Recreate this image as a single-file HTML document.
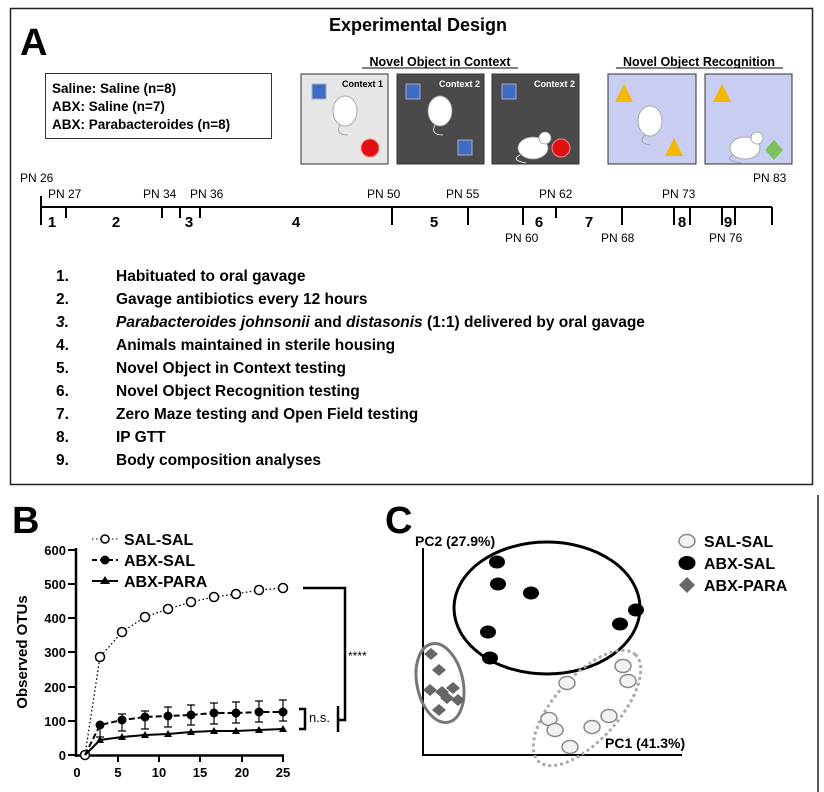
<!DOCTYPE html>
<html><head><meta charset="utf-8"><style>
html,body{margin:0;padding:0;background:#fff}
svg{display:block;font-family:"Liberation Sans",Arial,sans-serif}
</style></head><body>
<svg width="824" height="792" viewBox="0 0 824 792" xmlns="http://www.w3.org/2000/svg">
<rect x="0" y="0" width="824" height="792" fill="#fff"/>
<rect x="10.5" y="8.5" width="802" height="476" fill="none" stroke="#222" stroke-width="1.5"/>
<text x="20" y="55" font-size="38" font-weight="bold">A</text>
<text x="418" y="31" font-size="18" font-weight="bold" text-anchor="middle">Experimental Design</text>
<text x="440" y="66" font-size="12.5" font-weight="bold" text-anchor="middle">Novel Object in Context</text>
<line x1="362" y1="68" x2="518" y2="68" stroke="#000" stroke-width="1"/>
<text x="699" y="66" font-size="12.5" font-weight="bold" text-anchor="middle">Novel Object Recognition</text>
<line x1="616" y1="68" x2="783" y2="68" stroke="#000" stroke-width="1"/>
<rect x="45.5" y="73.5" width="226" height="65" fill="#fff" stroke="#333" stroke-width="1"/>
<g font-size="13.5" font-weight="bold">
<text x="52" y="93">Saline: Saline (n=8)</text>
<text x="52" y="111">ABX: Saline (n=7)</text>
<text x="52" y="129">ABX: Parabacteroides (n=8)</text>
</g>
<rect x="301" y="74" width="87" height="90" fill="#e6e6e6" stroke="#333"/>
<rect x="397" y="74" width="87" height="90" fill="#4a4a4a" stroke="#333"/>
<rect x="492" y="74" width="87" height="90" fill="#4a4a4a" stroke="#333"/>
<rect x="608" y="74" width="88" height="90" fill="#c9cdf2" stroke="#333"/>
<rect x="705" y="74" width="87" height="90" fill="#c9cdf2" stroke="#333"/>
<g font-size="9" font-weight="bold">
<text x="383" y="87" text-anchor="end" fill="#000">Context 1</text>
<text x="480" y="87" text-anchor="end" fill="#fff">Context 2</text>
<text x="575" y="87" text-anchor="end" fill="#fff">Context 2</text>
</g>
<rect x="312" y="84" width="14" height="15" fill="#3d6cc4" stroke="#aac" />
<circle cx="370" cy="148" r="9" fill="#e01010" stroke="#f88"/>
<rect x="406" y="84" width="14" height="15" fill="#3d6cc4" stroke="#aac"/>
<rect x="458" y="140" width="14" height="15" fill="#3d6cc4" stroke="#aac"/>
<rect x="502" y="84" width="14" height="15" fill="#3d6cc4" stroke="#aac"/>
<circle cx="561" cy="148" r="9" fill="#e01010" stroke="#f88"/>
<polygon points="624,84 615,102 633,102" fill="#f5b800"/>
<polygon points="674,138 665,156 683,156" fill="#f5b800"/>
<polygon points="722,84 713,102 731,102" fill="#f5b800"/>
<polygon points="774,140 783,150 774,160 765,150" fill="#7cc25a"/>
<g fill="#fff" stroke="#999" stroke-width="0.8">
<ellipse cx="345" cy="111" rx="12" ry="15"/>
<path d="M340 125 q-5 10 8 10" fill="none"/>
<ellipse cx="440" cy="111" rx="12" ry="15"/>
<path d="M435 125 q-5 10 8 10" fill="none" stroke="#fff"/>
<ellipse cx="533" cy="148" rx="15" ry="11"/>
<circle cx="545" cy="138" r="6"/>
<path d="M520 155 q-10 5 6 8" fill="none" stroke="#fff"/>
<ellipse cx="650" cy="121" rx="12" ry="15"/>
<path d="M645 135 q-8 8 5 10" fill="none"/>
<ellipse cx="745" cy="148" rx="15" ry="11"/>
<circle cx="757" cy="138" r="6"/>
<path d="M733 155 q-10 5 8 8" fill="none"/>
</g>
<g stroke="#000" stroke-width="2">
<line x1="41" y1="207" x2="772" y2="207"/>
<line x1="41" y1="196" x2="41" y2="225"/>
<line x1="66" y1="207" x2="66" y2="218"/>
<line x1="162" y1="207" x2="162" y2="218"/>
<line x1="180" y1="207" x2="180" y2="218"/>
<line x1="200" y1="207" x2="200" y2="218"/>
<line x1="392" y1="207" x2="392" y2="225"/>
<line x1="468" y1="207" x2="468" y2="225"/>
<line x1="523" y1="207" x2="523" y2="225"/>
<line x1="556" y1="207" x2="556" y2="218"/>
<line x1="622" y1="207" x2="622" y2="225"/>
<line x1="674" y1="207" x2="674" y2="225"/>
<line x1="690" y1="207" x2="690" y2="225"/>
<line x1="722" y1="207" x2="722" y2="225"/>
<line x1="735" y1="207" x2="735" y2="225"/>
<line x1="772" y1="207" x2="772" y2="225"/>
</g>
<g font-size="12">
<text x="20" y="182">PN 26</text>
<text x="48" y="198">PN 27</text>
<text x="143" y="198">PN 34</text>
<text x="190" y="198">PN 36</text>
<text x="367" y="198">PN 50</text>
<text x="446" y="198">PN 55</text>
<text x="539" y="198">PN 62</text>
<text x="662" y="198">PN 73</text>
<text x="753" y="182">PN 83</text>
<text x="505" y="242">PN 60</text>
<text x="601" y="242">PN 68</text>
<text x="709" y="242">PN 76</text>
</g>
<g font-size="15" font-weight="bold" text-anchor="middle">
<text x="52" y="227">1</text><text x="116" y="227">2</text><text x="189" y="227">3</text>
<text x="296" y="227">4</text><text x="434" y="227">5</text><text x="539" y="227">6</text>
<text x="589" y="227">7</text><text x="682" y="227">8</text><text x="728" y="227">9</text>
</g>
<g font-size="15.5" font-weight="bold">
<text x="56" y="281">1.</text><text x="116" y="281">Habituated to oral gavage</text>
<text x="56" y="304">2.</text><text x="116" y="304">Gavage antibiotics every 12 hours</text>
<text x="56" y="327" font-style="italic">3.</text><text x="116" y="327"><tspan font-style="italic">Parabacteroides johnsonii</tspan> and <tspan font-style="italic">distasonis</tspan> (1:1) delivered by oral gavage</text>
<text x="56" y="350">4.</text><text x="116" y="350">Animals maintained in sterile housing</text>
<text x="56" y="373">5.</text><text x="116" y="373">Novel Object in Context testing</text>
<text x="56" y="396">6.</text><text x="116" y="396">Novel Object Recognition testing</text>
<text x="56" y="419">7.</text><text x="116" y="419">Zero Maze testing and Open Field testing</text>
<text x="56" y="442">8.</text><text x="116" y="442">IP GTT</text>
<text x="56" y="465">9.</text><text x="116" y="465">Body composition analyses</text>
</g>
<line x1="818" y1="495" x2="818" y2="792" stroke="#222" stroke-width="1.5"/>

<text x="12" y="533" font-size="38" font-weight="bold">B</text>
<g stroke="#000" stroke-width="2.5">
<line x1="76" y1="548" x2="76" y2="757"/>
<line x1="76" y1="755.5" x2="284" y2="755.5"/>
</g>
<g stroke="#000" stroke-width="2">
<line x1="68" y1="550" x2="76" y2="550"/><line x1="68" y1="584" x2="76" y2="584"/>
<line x1="68" y1="618" x2="76" y2="618"/><line x1="68" y1="652" x2="76" y2="652"/>
<line x1="68" y1="687" x2="76" y2="687"/><line x1="68" y1="721" x2="76" y2="721"/>
<line x1="68" y1="755" x2="76" y2="755"/>
<line x1="118" y1="755" x2="118" y2="762"/><line x1="159" y1="755" x2="159" y2="762"/>
<line x1="200" y1="755" x2="200" y2="762"/><line x1="242" y1="755" x2="242" y2="762"/>
<line x1="283" y1="755" x2="283" y2="762"/>
</g>
<g font-size="13" font-weight="bold" text-anchor="end">
<text x="66" y="555">600</text><text x="66" y="589">500</text><text x="66" y="623">400</text>
<text x="66" y="657">300</text><text x="66" y="692">200</text><text x="66" y="726">100</text>
<text x="66" y="760">0</text>
</g>
<g font-size="13" font-weight="bold" text-anchor="middle">
<text x="77" y="777">0</text><text x="118" y="777">5</text><text x="159" y="777">10</text>
<text x="200" y="777">15</text><text x="242" y="777">20</text><text x="283" y="777">25</text>
</g>
<text transform="translate(27,652) rotate(-90)" font-size="15" font-weight="bold" text-anchor="middle">Observed OTUs</text>
<line x1="92" y1="539" x2="118" y2="539" stroke="#000" stroke-dasharray="1.5,2.5"/>
<circle cx="105" cy="539" r="4" fill="#fff" stroke="#000" stroke-width="1.5"/>
<line x1="92" y1="560" x2="118" y2="560" stroke="#000" stroke-width="2" stroke-dasharray="5,3"/>
<circle cx="105" cy="560" r="4.5" fill="#000"/>
<line x1="92" y1="581" x2="118" y2="581" stroke="#000" stroke-width="2"/>
<polygon points="105,576 110,584 100,584" fill="#000"/>
<g font-size="16" font-weight="bold">
<text x="124" y="545">SAL-SAL</text><text x="124" y="566">ABX-SAL</text><text x="124" y="587">ABX-PARA</text>
</g>
<polyline fill="none" stroke="#000" stroke-width="1.3" stroke-dasharray="1.5,2.5" points="85,755 100,657 122,632 145,617 168,609 191,602 214,597 236,594 259,590 283,588"/>
<g fill="#fff" stroke="#000" stroke-width="1.5">
<circle cx="85" cy="755" r="4.5"/><circle cx="100" cy="657" r="4.5"/><circle cx="122" cy="632" r="4.5"/>
<circle cx="145" cy="617" r="4.5"/><circle cx="168" cy="609" r="4.5"/><circle cx="191" cy="602" r="4.5"/>
<circle cx="214" cy="597" r="4.5"/><circle cx="236" cy="594" r="4.5"/><circle cx="259" cy="590" r="4.5"/>
<circle cx="283" cy="588" r="4.5"/>
</g>
<g stroke="#000" stroke-width="1.2">
<path d="M100 725v12M96 725h8M96 737h8M122 714v17M118 714h8M118 731h8M145 711v18M141 711h8M141 729h8M168 707v20M164 707h8M164 727h8M191 705v20M187 705h8M187 725h8M214 703v21M210 703h8M210 724h8M236 702v21M232 702h8M232 723h8M259 701v21M255 701h8M255 722h8M283 700v21M279 700h8M279 721h8"/>
</g>
<polyline fill="none" stroke="#000" stroke-width="2" stroke-dasharray="6,3" points="85,755 100,725 122,720 145,717 168,716 191,715 214,713 236,713 259,712 283,712"/>
<g fill="#000">
<circle cx="100" cy="725" r="4.5"/><circle cx="122" cy="720" r="4.5"/><circle cx="145" cy="717" r="4.5"/>
<circle cx="168" cy="716" r="4.5"/><circle cx="191" cy="715" r="4.5"/><circle cx="214" cy="713" r="4.5"/>
<circle cx="236" cy="713" r="4.5"/><circle cx="259" cy="712" r="4.5"/><circle cx="283" cy="712" r="4.5"/>
</g>
<polyline fill="none" stroke="#000" stroke-width="2" points="85,755 100,740 122,737 145,735 168,734 191,732 214,731 236,731 259,730 283,729"/>
<g fill="#000">
<polygon points="100,736 104,743 96,743"/><polygon points="122,733 126,740 118,740"/>
<polygon points="145,731 149,738 141,738"/><polygon points="168,730 172,737 164,737"/>
<polygon points="191,728 195,735 187,735"/><polygon points="214,727 218,734 210,734"/>
<polygon points="236,727 240,734 232,734"/><polygon points="259,726 263,733 255,733"/>
<polygon points="283,725 287,732 279,732"/>
</g>
<polyline fill="none" stroke="#000" stroke-width="2.5" points="303,588 345,588 345,720 339,720"/>
<line x1="338" y1="706" x2="338" y2="732" stroke="#000" stroke-width="2.5"/>
<polyline fill="none" stroke="#000" stroke-width="2.5" points="299,709 305,709 305,729 299,729"/>
<text x="309" y="722" font-size="13">n.s.</text>
<text x="348" y="660" font-size="12">****</text>

<text x="385" y="533" font-size="38" font-weight="bold">C</text>
<line x1="423" y1="548" x2="423" y2="756" stroke="#000" stroke-width="2"/>
<line x1="422" y1="755" x2="682" y2="755" stroke="#000" stroke-width="2"/>
<text x="415" y="546" font-size="14" font-weight="bold">PC2 (27.9%)</text>
<text x="605" y="748" font-size="14" font-weight="bold">PC1 (41.3%)</text>
<ellipse cx="547" cy="608" rx="93" ry="66" fill="none" stroke="#000" stroke-width="3"/>
<ellipse cx="440" cy="683" rx="23" ry="40" transform="rotate(-12 440 683)" fill="none" stroke="#777" stroke-width="3"/>
<ellipse cx="587" cy="708" rx="72" ry="32" transform="rotate(-48 587 708)" fill="none" stroke="#aaa" stroke-width="3" stroke-dasharray="3,3"/>
<g fill="#000">
<ellipse cx="497" cy="562" rx="8" ry="6.5"/><ellipse cx="498" cy="584" rx="8" ry="6.5"/>
<ellipse cx="531" cy="593" rx="8" ry="6.5"/><ellipse cx="488" cy="632" rx="8" ry="6.5"/>
<ellipse cx="490" cy="658" rx="8" ry="6.5"/><ellipse cx="620" cy="624" rx="8" ry="6.5"/>
<ellipse cx="636" cy="610" rx="8" ry="6.5"/>
</g>
<g fill="#f2f2f2" stroke="#888" stroke-width="1.5">
<ellipse cx="623" cy="666" rx="8" ry="6.5"/><ellipse cx="628" cy="681" rx="8" ry="6.5"/>
<ellipse cx="567" cy="683" rx="8" ry="6.5"/><ellipse cx="609" cy="716" rx="8" ry="6.5"/>
<ellipse cx="549" cy="719" rx="8" ry="6.5"/><ellipse cx="555" cy="730" rx="8" ry="6.5"/>
<ellipse cx="592" cy="727" rx="8" ry="6.5"/><ellipse cx="570" cy="747" rx="8" ry="6.5"/>
</g>
<g fill="#666">
<polygon points="431,648 438,654 431,660 424,654"/><polygon points="439,664 446,670 439,676 432,670"/>
<polygon points="430,684 437,690 430,696 423,690"/><polygon points="442,686 449,692 442,698 435,692"/>
<polygon points="453,682 460,688 453,694 446,688"/><polygon points="458,694 465,700 458,706 451,700"/>
<polygon points="439,704 446,710 439,716 432,710"/><polygon points="447,692 454,698 447,704 440,698"/>
</g>
<ellipse cx="687" cy="541" rx="8" ry="6.5" fill="#f2f2f2" stroke="#888" stroke-width="1.5"/>
<ellipse cx="687" cy="563" rx="8.5" ry="7" fill="#000"/>
<polygon points="687,577 695,585 687,593 679,585" fill="#666"/>
<g font-size="16" font-weight="bold">
<text x="704" y="547">SAL-SAL</text><text x="704" y="569">ABX-SAL</text><text x="704" y="591">ABX-PARA</text>
</g>
</svg>
</body></html>
